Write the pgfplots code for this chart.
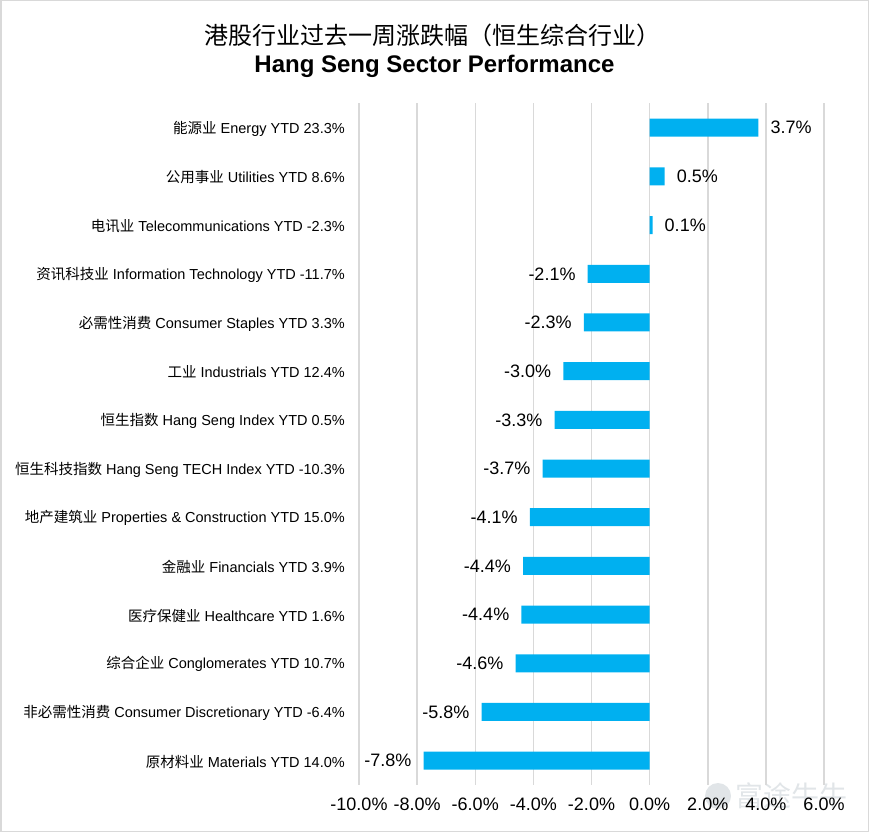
\documentclass[border=0pt]{standalone}
\usepackage{fontspec}
\setmainfont{Liberation Sans}
\newfontfamily\cjk{Noto Sans CJK SC}
\usepackage{pgfplots}
\usepackage{pgfplotstable}
\pgfplotsset{compat=1.18}
\definecolor{barblue}{HTML}{00B0F0}
\definecolor{gridgray}{HTML}{D9D9D9}
\definecolor{wm}{HTML}{E1E5E8}
\newcommand{\zh}[1]{{\cjk #1}}

\pgfplotstableread{
y x lab
0 3.74 3.7
1 0.52 0.5
2 0.10 0.1
}\postab
\pgfplotstableread{
y x lab
3 -2.13 -2.1
4 -2.26 -2.3
5 -2.97 -3.0
6 -3.27 -3.3
7 -3.68 -3.7
8 -4.12 -4.1
9 -4.35 -4.4
10 -4.41 -4.4
11 -4.61 -4.6
12 -5.78 -5.8
13 -7.78 -7.8
}\negtab

\begin{document}
\begin{tikzpicture}[x=1pt,y=1pt]
\useasboundingbox (0,0) rectangle (869,832);
\draw[gridgray, line width=1.5pt] (0.75,0.75) rectangle (868.25,831.25);
\node[font=\cjk\fontsize{24}{28}\selectfont] at (432,797) {港股行业过去一周涨跌幅（恒生综合行业）};
\node[font=\bfseries\fontsize{24}{28}\selectfont] at (434.5,766) {Hang Seng Sector Performance};
% watermark
\fill[wm] (718,36) circle (13);
\node[font=\cjk\fontsize{28}{30}\selectfont, text=wm, anchor=west, inner sep=0pt] at (735,36) {富途牛牛};
\begin{axis}[
  at={(359pt,47pt)}, anchor=south west,
  scale only axis, width=465pt, height=681.6pt,
  xmin=-10, xmax=6, ymin=-0.5, ymax=13.5,
  y dir=reverse,
  axis line style={draw=none},
  major tick length=0pt,
  xtick={-10,-8,...,6},
  ytick={0,...,13},
  yticklabels={
    \zh{能源业} Energy YTD 23.3\%,
    \zh{公用事业} Utilities YTD 8.6\%,
    \zh{电讯业} Telecommunications YTD -2.3\%,
    \zh{资讯科技业} Information Technology YTD -11.7\%,
    \zh{必需性消费} Consumer Staples YTD 3.3\%,
    \zh{工业} Industrials YTD 12.4\%,
    \zh{恒生指数} Hang Seng Index YTD 0.5\%,
    \zh{恒生科技指数} Hang Seng TECH Index YTD -10.3\%,
    \zh{地产建筑业} Properties \& Construction YTD 15.0\%,
    \zh{金融业} Financials YTD 3.9\%,
    \zh{医疗保健业} Healthcare YTD 1.6\%,
    \zh{综合企业} Conglomerates YTD 10.7\%,
    \zh{非必需性消费} Consumer Discretionary YTD -6.4\%,
    \zh{原材料业} Materials YTD 14.0\%},
  yticklabel style={font=\fontsize{14.5}{16}\selectfont, anchor=east, inner sep=0pt, xshift=-14pt, yshift=-1pt},
  xticklabel={\pgfmathprintnumber[fixed,fixed zerofill,precision=1]{\tick}\%},
  xticklabel style={font=\fontsize{18}{20}\selectfont, inner sep=0pt, yshift=-13pt},
  /pgf/number format/assume math mode=true,
  xmajorgrids,
  major grid style={draw=gridgray, line width=1.5pt},
  xbar, bar width=18pt, bar shift=0pt,
  point meta=explicit,
]
\addplot[draw=none, fill=barblue,
  nodes near coords={\pgfmathprintnumber[fixed,fixed zerofill,precision=1]{\pgfplotspointmeta}\%},
  nodes near coords style={anchor=west, inner sep=0pt, xshift=12pt, font=\fontsize{18}{20}\selectfont, text=black}]
  table[x=x, y=y, meta=lab] {\postab};
\addplot[draw=none, fill=barblue,
  nodes near coords={\pgfmathprintnumber[fixed,fixed zerofill,precision=1]{\pgfplotspointmeta}\%},
  nodes near coords style={anchor=east, inner sep=0pt, xshift=-12pt, font=\fontsize{18}{20}\selectfont, text=black}]
  table[x=x, y=y, meta=lab] {\negtab};
\end{axis}
\end{tikzpicture}
\end{document}
